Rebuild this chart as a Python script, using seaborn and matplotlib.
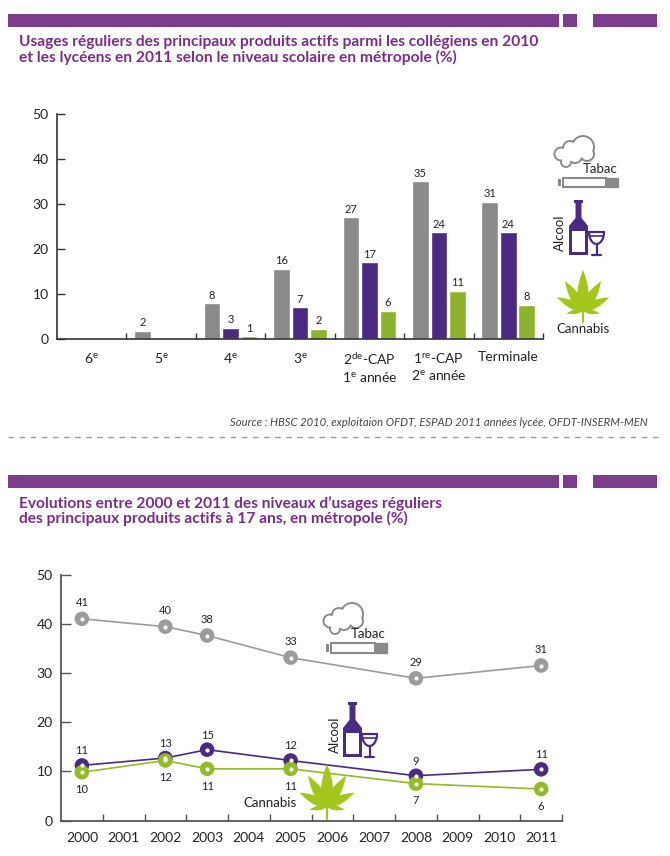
import numpy as np
import pandas as pd
import matplotlib
matplotlib.use("Agg")
import matplotlib.pyplot as plt
import seaborn as sns
from matplotlib.patches import Rectangle, Polygon
from matplotlib.ticker import FixedLocator

# ---------------- data ----------------
niveaux = ["6e", "5e", "4e", "3e", "2de-CAP", "1re-CAP", "Terminale"]
niveaux_affiches = [r"6$^{\mathrm{e}}$", r"5$^{\mathrm{e}}$", r"4$^{\mathrm{e}}$", r"3$^{\mathrm{e}}$",
                    "2$^{\\mathrm{de}}$-CAP\n1$^{\\mathrm{e}}$ année",
                    "1$^{\\mathrm{re}}$-CAP\n2$^{\\mathrm{e}}$ année",
                    "Terminale"]
produits = ["Tabac", "Alcool", "Cannabis"]
tabac_niveau = [0.3, 1.8, 7.9, 15.6, 27.0, 35.0, 30.5]
alcool_niveau = [0.0, 0.0, 2.5, 7.0, 17.0, 23.7, 23.7]
cannabis_niveau = [0.0, 0.0, 0.6, 2.2, 6.2, 10.7, 7.6]
tabac_niveau_lbl = ["", "2", "8", "16", "27", "35", "31"]
alcool_niveau_lbl = ["", "", "3", "7", "17", "24", "24"]
cannabis_niveau_lbl = ["", "", "1", "2", "6", "11", "8"]

annees = [2000, 2002, 2003, 2005, 2008, 2011]
annees_axe = list(range(2000, 2012))
tabac_annee = [41.0, 39.4, 37.6, 33.1, 28.9, 31.5]
alcool_annee = [11.2, 12.7, 14.4, 12.2, 9.1, 10.4]
cannabis_annee = [9.8, 12.2, 10.5, 10.5, 7.5, 6.4]
tabac_annee_lbl = ["41", "40", "38", "33", "29", "31"]
alcool_annee_lbl = ["11", "13", "15", "12", "9", "11"]
cannabis_annee_lbl = ["10", "12", "11", "11", "7", "6"]

titre_haut = ("Usages réguliers des principaux produits actifs parmi les collégiens en 2010\n"
              "et les lycéens en 2011 selon le niveau scolaire en métropole (%)")
titre_bas = ("Evolutions entre 2000 et 2011 des niveaux d’usages réguliers\n"
             "des principaux produits actifs à 17 ans, en métropole (%)")
source = "Source : HBSC 2010, exploitaion OFDT, ESPAD 2011 années lycée, OFDT-INSERM-MEN"

# ---------------- styles ----------------
couleurs_barres = {"Tabac": "#8a8a8a", "Alcool": "#4a2a83", "Cannabis": "#8db22b"}
couleurs_lignes = {"Tabac": "#9b9b9b", "Alcool": "#4a2a83", "Cannabis": "#93bb25"}
VIOLET = "#7d3c8c"
TITRE = "#7b2c8b"
VERT_FEUILLE = "#a2c61c"
TXT = "#222222"

sns.set_theme(style="white")
plt.rcParams["font.family"] = ["Lato", "DejaVu Sans"]
plt.rcParams["mathtext.fontset"] = "custom"
plt.rcParams["mathtext.rm"] = "Lato"
plt.rcParams["mathtext.it"] = "Lato:italic"
plt.rcParams["mathtext.bf"] = "Lato:bold"

df_niv = pd.DataFrame({
    "niveau": niveaux * 3,
    "produit": [p for p in produits for _ in niveaux],
    "valeur": tabac_niveau + alcool_niveau + cannabis_niveau,
})
df_ev = pd.DataFrame({
    "annee": annees * 3,
    "produit": [p for p in produits for _ in annees],
    "valeur": tabac_annee + alcool_annee + cannabis_annee,
})

fig = plt.figure(figsize=(6.7, 8.56), dpi=100)
W, H = 670.0, 856.0
ax1 = fig.add_axes([57 / W, 1 - 339 / H, (543 - 57) / W, 225 / H])
ax2 = fig.add_axes([61 / W, 1 - 820.5 / H, 501 / W, 246 / H])

# ---------------- top: bar chart ----------------
sns.barplot(data=df_niv, x="niveau", y="valeur", hue="produit", order=niveaux,
            hue_order=produits, palette=couleurs_barres, saturation=1, gap=0.1,
            legend=False, ax=ax1)
for cont, lbls in zip(ax1.containers, [tabac_niveau_lbl, alcool_niveau_lbl, cannabis_niveau_lbl]):
    ax1.bar_label(cont, labels=lbls, padding=2, fontsize=8, color=TXT)

ax1.set_xlim(-0.5, 6.5)
ax1.set_ylim(0, 50)
ax1.set_yticks([0, 10, 20, 30, 40, 50])
ax1.set_xticks(range(len(niveaux)))
ax1.set_xticklabels(niveaux_affiches)
ax1.xaxis.set_minor_locator(FixedLocator(np.arange(0.5, 7.0, 1.0)))
ax1.set_xlabel("")
ax1.set_ylabel("")
for s in ["top", "right"]:
    ax1.spines[s].set_visible(False)
for s in ["left", "bottom"]:
    ax1.spines[s].set_color("#333333")
    ax1.spines[s].set_linewidth(1.2)
ax1.tick_params(axis="y", left=True, direction="in", length=6, width=1, pad=6,
                labelsize=10, colors="#333333", labelcolor=TXT)
ax1.tick_params(axis="x", which="major", bottom=True, length=0, pad=9, labelsize=10, labelcolor=TXT)
ax1.tick_params(axis="x", which="minor", bottom=True, direction="in", length=4, width=1, color="#333333")
ax1.patch.set_alpha(0)

# ---------------- bottom: line chart ----------------
sns.lineplot(data=df_ev, x="annee", y="valeur", hue="produit", hue_order=produits,
             palette=couleurs_lignes, linewidth=1.2, legend=False, ax=ax2)
sns.scatterplot(data=df_ev, x="annee", y="valeur", hue="produit", hue_order=produits,
                palette=couleurs_lignes, s=110, linewidth=0, legend=False, ax=ax2, zorder=3)
sns.scatterplot(data=df_ev, x="annee", y="valeur", color="white", s=9, linewidth=0,
                legend=False, ax=ax2, zorder=4)
decal = {"Tabac": 11.5, "Alcool": 10.5, "Cannabis": -12.5}
for prod, vals, lbls in zip(produits, [tabac_annee, alcool_annee, cannabis_annee],
                            [tabac_annee_lbl, alcool_annee_lbl, cannabis_annee_lbl]):
    for xa, va_, lb in zip(annees, vals, lbls):
        ax2.annotate(lb, (xa, va_), xytext=(0, decal[prod]), textcoords="offset points",
                     ha="center", va="center", fontsize=8, color=TXT)

ax2.set_xlim(1999.5, 2011.5)
ax2.set_ylim(0, 50)
ax2.set_yticks([0, 10, 20, 30, 40, 50])
ax2.set_xticks(annees_axe)
ax2.set_xticklabels([str(a) for a in annees_axe])
ax2.xaxis.set_minor_locator(FixedLocator(np.arange(2000.5, 2012.0, 1.0)))
ax2.set_xlabel("")
ax2.set_ylabel("")
for s in ["top", "right"]:
    ax2.spines[s].set_visible(False)
for s in ["left", "bottom"]:
    ax2.spines[s].set_color("#555555")
    ax2.spines[s].set_linewidth(1.3)
ax2.tick_params(axis="y", left=True, direction="in", length=7, width=1, pad=6,
                labelsize=10, colors="#555555", labelcolor=TXT)
ax2.tick_params(axis="x", which="major", bottom=True, length=0, pad=8, labelsize=10, labelcolor=TXT)
ax2.tick_params(axis="x", which="minor", bottom=True, direction="in", length=5, width=1, color="#555555")
ax2.patch.set_alpha(0)

# ---------------- overlay: headers, titles, icons ----------------
ov = fig.add_axes([0, 0, 1, 1], zorder=10)
ov.set_xlim(0, W)
ov.set_ylim(H, 0)
ov.axis("off")
ov.patch.set_alpha(0)

for y0 in (14, 475):
    ov.add_patch(Rectangle((8, y0), 551, 13, fc=VIOLET, ec="none"))
    ov.add_patch(Rectangle((563, y0), 14, 13, fc=VIOLET, ec="none"))
    ov.add_patch(Rectangle((593, y0), 64, 13, fc=VIOLET, ec="none"))

ov.text(19, 50, titre_haut, ha="left", va="center", fontsize=11.2, fontweight="bold",
        color=TITRE, linespacing=1.05)
ov.text(19, 511, titre_bas, ha="left", va="center", fontsize=11.2, fontweight="bold",
        color=TITRE, linespacing=1.05)
ov.text(648, 422, source, ha="right", va="center", fontsize=8.1, style="italic", color="#444444")
ov.plot([8, 662], [437, 437], ls=(0, (4, 4)), color="#9a9a9a", lw=1)


def draw_cloud(ax, x0, y0, color="#8a8a8a"):
    puffs = [(30, 12, 11), (17, 13, 7), (34, 19, 7), (8, 19, 6.5), (13, 27, 5), (22, 21, 7)]
    fillers = [(19, 19, 7), (12, 21, 5)]  # hidden masks, close interior gaps
    th = np.linspace(0, 2 * np.pi, 361)
    allc = puffs + fillers
    for i, (dx, dy, r) in enumerate(puffs):
        cx, cy = x0 + dx, y0 + dy
        px = cx + r * np.cos(th)
        py = cy + r * np.sin(th)
        keep = np.ones_like(th, dtype=bool)
        for j, (ex, ey, er) in enumerate(allc):
            if j == i:
                continue
            keep &= np.hypot(px - (x0 + ex), py - (y0 + ey)) > er
        ax.plot(np.where(keep, px, np.nan), np.where(keep, py, np.nan),
                color=color, lw=1.4, zorder=5, solid_capstyle="round")


def draw_cig(ax, x0, y0, w=60, h=9, color="#8a8a8a"):
    ax.add_patch(Rectangle((x0, y0 + 1), 3, h - 2, fc=color, ec="none", zorder=5))
    ax.add_patch(Rectangle((x0 + 5, y0), w - 17, h, fc="white", ec=color, lw=1.5, zorder=5))
    ax.add_patch(Rectangle((x0 + w - 12, y0), 12, h, fc=color, ec=color, lw=1, zorder=5))


def draw_bottle(ax, x0, y0, color="#4a2a83"):
    pts = [(x0 + 5, y0), (x0 + 14, y0), (x0 + 14, y0 + 3), (x0 + 12.5, y0 + 3), (x0 + 12.5, y0 + 18),
           (x0 + 19, y0 + 26), (x0 + 19, y0 + 55), (x0, y0 + 55), (x0, y0 + 26),
           (x0 + 6.5, y0 + 18), (x0 + 6.5, y0 + 3), (x0 + 5, y0 + 3)]
    ax.add_patch(Polygon(pts, closed=True, fc=color, ec="none", zorder=5))
    ax.add_patch(Rectangle((x0 + 3, y0 + 31), 13, 21, fc="white", ec="none", zorder=6))


def draw_glass(ax, x0, y0, color="#4a2a83"):
    th = np.linspace(0, np.pi, 30)
    bx = x0 + 7.5 + 7.5 * np.cos(th)
    by = y0 + 12 * np.sin(th)
    ax.plot(bx, by, color=color, lw=1.6, zorder=5)
    ax.plot([x0, x0 + 15], [y0, y0], color=color, lw=1.6, zorder=5)
    ax.plot([x0 + 1, x0 + 14], [y0 + 4, y0 + 4], color=color, lw=1.2, zorder=5)
    ax.plot([x0 + 7.5, x0 + 7.5], [y0 + 12, y0 + 22], color=color, lw=1.6, zorder=5)
    ax.plot([x0 + 3, x0 + 12], [y0 + 22.5, y0 + 22.5], color=color, lw=1.6, zorder=5)


def draw_leaf(ax, bx, by, sc=1.0, color=VERT_FEUILLE):
    leaflets = [(0, 40), (32, 34), (-32, 34), (64, 29), (-64, 29), (102, 17), (-102, 17)]
    t = np.linspace(0, 1, 40)
    for ang, ln in leaflets:
        a = np.deg2rad(ang)
        d = np.array([np.sin(a), -np.cos(a)])
        n = np.array([np.cos(a), np.sin(a)])
        L = ln * sc
        wmax = 0.14 * L
        w = wmax * np.sin(np.pi * t ** 0.75) ** 0.9
        c = np.outer(t * L, d)
        left = c + np.outer(w, n)
        right = c - np.outer(w, n)
        pts = np.vstack([left, right[::-1]]) + np.array([bx, by])
        ax.add_patch(Polygon(pts, closed=True, fc=color, ec="none", zorder=5))
    ax.plot([bx, bx], [by, by + 12 * sc], color=color, lw=1.5, zorder=5)


# top legend icons
draw_cloud(ov, 553, 135)
draw_cig(ov, 558, 178)
ov.text(600, 169, "Tabac", ha="center", va="center", fontsize=9.5, color=TXT, zorder=7)
draw_bottle(ov, 569, 200)
draw_glass(ov, 589, 232)
ov.text(560, 233, "Alcool", rotation=90, ha="center", va="center", fontsize=9.5, color=TXT, zorder=7)
draw_leaf(ov, 583, 310)
ov.text(583, 329, "Cannabis", ha="center", va="center", fontsize=9.5, color=TXT, zorder=7)

# bottom chart icons
draw_cloud(ov, 322, 602)
draw_cig(ov, 326, 643, w=61, h=10)
ov.text(368, 634, "Tabac", ha="center", va="center", fontsize=9.5, color=TXT, zorder=7)
draw_bottle(ov, 343, 702)
draw_glass(ov, 362, 734)
ov.text(335, 735, "Alcool", rotation=90, ha="center", va="center", fontsize=9.5, color=TXT, zorder=7)
draw_leaf(ov, 327, 806, sc=1.05)
ov.text(297, 803, "Cannabis", ha="right", va="center", fontsize=9.5, color=TXT, zorder=7)

fig.savefig("out.png", dpi=100)
